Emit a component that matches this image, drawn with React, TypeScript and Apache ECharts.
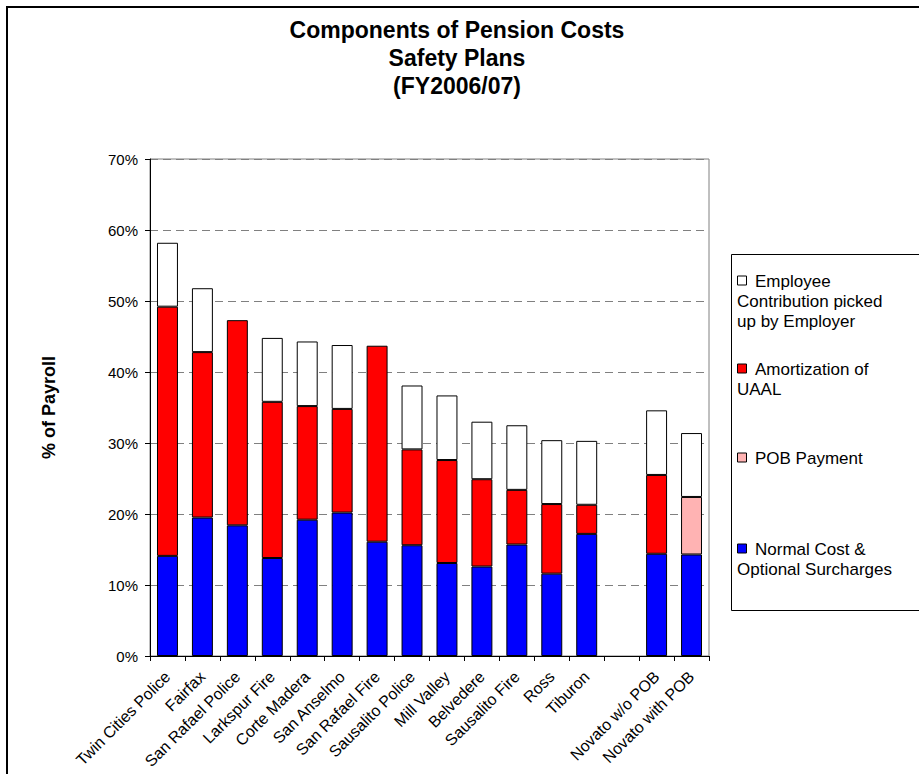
import React, { useEffect, useRef } from "react";
import * as echarts from "echarts";

const categories = [
  "Twin Cities Police", "Fairfax", "San Rafael Police", "Larkspur Fire", "Corte Madera",
  "San Anselmo", "San Rafael Fire", "Sausalito Police", "Mill Valley", "Belvedere",
  "Sausalito Fire", "Ross", "Tiburon", "", "Novato w/o POB", "Novato with POB",
];

const normalCost = [14.1, 19.5, 18.4, 13.8, 19.2, 20.2, 16.1, 15.6, 13.1, 12.6, 15.7, 11.6, 17.2, null, 14.4, 14.3];
const pobPayment = [null, null, null, null, null, null, null, null, null, null, null, null, null, null, null, 8.1];
const amortization = [35.1, 23.3, 28.9, 22.0, 16.0, 14.6, 27.6, 13.5, 14.5, 12.3, 7.7, 9.8, 4.1, null, 11.1, null];
const employeeContribution = [9.0, 9.0, null, 9.0, 9.1, 9.0, null, 9.0, 9.1, 8.1, 9.1, 9.0, 9.0, null, 9.1, 9.0];

const yTicks = [0, 10, 20, 30, 40, 50, 60, 70];

const seriesNames = [
  "Normal Cost & Optional Surcharges",
  "POB Payment",
  "Amortization of UAAL",
  "Employee Contribution picked up by Employer",
];
const seriesColors = ["#0000FF", "#FFB3B3", "#FF0000", "#FFFFFF"];

// legend wrapping (top to bottom as in reference)
const legendEntries = [
  { series: 3, lines: ["Employee", "Contribution picked", "up by Employer"] },
  { series: 2, lines: ["Amortization of", "UAAL"] },
  { series: 1, lines: ["POB Payment"] },
  { series: 0, lines: ["Normal Cost &", "Optional Surcharges"] },
];

const FONT = 'Arial, "Liberation Sans", Helvetica, sans-serif';

export default function App() {
  const ref = useRef<HTMLDivElement>(null);
  useEffect(() => {
    if (!ref.current) return;
    const chart = echarts.init(ref.current, undefined, { renderer: "svg" });
    const dataSets = [normalCost, pobPayment, amortization, employeeContribution];

    const legendGraphics: any[] = [
      {
        type: "rect",
        shape: { x: 731.5, y: 254.5, width: 300, height: 356 },
        style: { fill: "#fff", stroke: "#000", lineWidth: 1 },
        z: 10,
      },
    ];
    const firstLineY = [281, 369, 458, 549];
    const lineGap = 20;
    legendEntries.forEach((e, i) => {
      const y0 = firstLineY[i];
      legendGraphics.push({
        type: "rect",
        shape: { x: 737.5, y: y0 - 5, width: 9, height: 9 },
        style: {
          fill: seriesColors[e.series],
          stroke: "#000",
          lineWidth: 1,
        },
        z: 11,
      });
      e.lines.forEach((ln, j) => {
        legendGraphics.push({
          type: "text",
          x: j === 0 ? 755 : 737,
          y: y0 + j * lineGap,
          style: {
            text: ln,
            font: `17px ${FONT}`,
            fill: "#000",
            textVerticalAlign: "middle",
            textAlign: "left",
          },
          z: 11,
        });
      });
    });

    chart.setOption({
      animation: false,
      backgroundColor: "#fff",
      title: {
        text: "Components of Pension Costs\nSafety Plans\n(FY2006/07)",
        left: 457,
        top: 16,
        padding: 0,
        textAlign: "center",
        textStyle: {
          fontFamily: FONT,
          fontSize: 23,
          fontWeight: "bold",
          color: "#000",
          lineHeight: 28,
        },
      },
      grid: {
        left: 150,
        top: 159,
        right: 210,
        bottom: 118,
        show: true,
        borderColor: "#808080",
        borderWidth: 1,
        backgroundColor: "transparent",
      },
      xAxis: {
        type: "category",
        data: categories,
        axisLine: { lineStyle: { color: "#000", width: 1 } },
        axisTick: { show: true, length: 5, lineStyle: { color: "#000" }, alignWithLabel: false },
        axisLabel: {
          interval: 0,
          rotate: 45,
          margin: 18,
          fontFamily: FONT,
          fontSize: 16,
          color: "#000",
        },
      },
      yAxis: {
        type: "value",
        min: 0,
        max: 70,
        interval: 10,
        name: "% of Payroll",
        nameLocation: "middle",
        nameGap: 92,
        nameRotate: 90,
        nameTextStyle: { fontFamily: FONT, fontSize: 18, fontWeight: "bold", color: "#000" },
        axisLine: { show: true, lineStyle: { color: "#000", width: 1 } },
        axisTick: { show: true, length: 5, lineStyle: { color: "#000" } },
        axisLabel: {
          formatter: (v: number) => (yTicks.includes(v) ? `${v}%` : ""),
          fontFamily: FONT,
          fontSize: 15,
          color: "#000",
          margin: 12,
        },
        splitLine: { show: true, lineStyle: { color: "#808080", type: [8, 5], width: 1 } },
      },
      series: dataSets.map((d, i) => ({
        name: seriesNames[i],
        type: "bar",
        stack: "total",
        data: d,
        barCategoryGap: "40%",
        itemStyle: { color: seriesColors[i], borderColor: "#000", borderWidth: 1 },
      })),
      graphic: [
        {
          type: "rect",
          shape: { x: 7, y: 7, width: 1000, height: 1000 },
          style: { fill: "none", stroke: "#000", lineWidth: 2 },
          z: 10,
        },
        ...legendGraphics,
      ],
    });
    return () => chart.dispose();
  }, []);
  return (
    <div
      ref={ref}
      style={{ position: "fixed", left: 0, top: 0, width: 919, height: 774 }}
    />
  );
}
